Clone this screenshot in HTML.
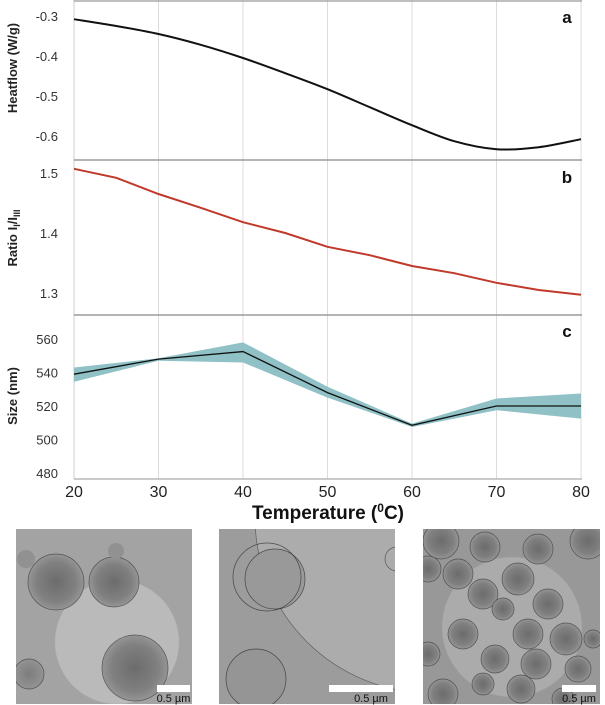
<!DOCTYPE html>
<html><head><meta charset="utf-8"><style>
html,body{margin:0;padding:0;background:#fff;}
svg{display:block;font-family:"Liberation Sans",Arial,sans-serif;}
</style></head><body>
<svg id="c" width="605" height="705" viewBox="0 0 605 705" xmlns="http://www.w3.org/2000/svg">
<defs>
<radialGradient id="dk" cx="50%" cy="50%" r="50%"><stop offset="0" stop-color="#6c6c6c"/><stop offset="0.7" stop-color="#808080"/><stop offset="1" stop-color="#959595"/></radialGradient>
<radialGradient id="dk2" cx="50%" cy="50%" r="50%"><stop offset="0" stop-color="#7c7c7c"/><stop offset="1" stop-color="#939393"/></radialGradient>
<clipPath id="cd"><rect x="16" y="529" width="176" height="175"/></clipPath>
<clipPath id="ce"><rect x="219" y="529" width="176" height="175"/></clipPath>
<clipPath id="cf"><rect x="423" y="529" width="177" height="175"/></clipPath>
</defs>
<g id="charts"></g>
<g id="micro"></g>
</svg>
<script>
const xTicks=[20,30,40,50,60,70,80];
const tempA=[20,25,30,35,40,45,50,55,60,65,70,75,80];
const heatflow=[-0.308,-0.325,-0.345,-0.372,-0.405,-0.443,-0.483,-0.528,-0.573,-0.613,-0.633,-0.628,-0.608];
const yTicksA=[-0.3,-0.4,-0.5,-0.6];
const tempB=[20,25,30,35,40,45,50,55,60,65,70,75,80];
const ratio=[1.507,1.492,1.465,1.442,1.418,1.400,1.377,1.363,1.345,1.333,1.317,1.305,1.297];
const yTicksB=[1.5,1.4,1.3];
const tempC=[20,30,40,50,60,70,80];
const sizeMean=[539,548,552.5,528,508.5,520,520];
const sizeUpper=[543,548.5,558,531.5,509.5,524.5,527.5];
const sizeLower=[534.5,547,546,525,507.5,517.5,512.5];
const yTicksC=[560,540,520,500,480];

const NS="http://www.w3.org/2000/svg";
const g=document.getElementById('charts');
function mk(t,a,p){const e=document.createElementNS(NS,t);for(const k in a)e.setAttribute(k,a[k]);(p||g).appendChild(e);return e;}
const X0=74,X1=581;
const xs=v=>X0+(v-20)/60*(X1-X0);
const ya=v=>16+(v+0.3)/(-0.3)*120;
const yb=v=>173+(1.5-v)/0.2*120;
const yc=v=>473-(v-480)/80*134;

xTicks.forEach(t=>{ if(t===20)return;
 const l=mk('line',{x1:xs(t),x2:xs(t),y1:0,y2:479,stroke:'#dcdcdc','stroke-width':1});
 });
let ax=mk('line',{x1:X0,x2:X0,y1:0,y2:479,stroke:'#cfcfcf','stroke-width':1});

[[1,'#999'],[160,'#888'],[315,'#888'],[479,'#aaa']].forEach(([y,c])=>{
 const l=mk('line',{x1:X0,x2:X1+1,y1:y,y2:y,stroke:c,'stroke-width':1.3});
 });

function txt(x,y,s,attrs,name){const t=mk('text',Object.assign({x:x,y:y},attrs));t.textContent=s;
 return t;}
const tk={'font-size':13,fill:'#333','text-anchor':'end'};
yTicksA.forEach(v=>txt(58,ya(v)+5,v.toFixed(1),tk,'y-tick-a'));
yTicksB.forEach(v=>txt(58,yb(v)+5,v.toFixed(1),tk,'y-tick-b'));
yTicksC.forEach(v=>txt(58,yc(v)+5,String(v),tk,'y-tick-c'));
xTicks.forEach(v=>txt(xs(v),497,String(v),{'font-size':16,fill:'#222','text-anchor':'middle'},'x-tick'));

function smooth(px){let d='M'+px[0][0]+','+px[0][1];
 for(let i=0;i<px.length-1;i++){const p0=px[i-1]||px[i],p1=px[i],p2=px[i+1],p3=px[i+2]||px[i+1];
  d+=' C'+(p1[0]+(p2[0]-p0[0])/6)+','+(p1[1]+(p2[1]-p0[1])/6)+' '+(p2[0]-(p3[0]-p1[0])/6)+','+(p2[1]-(p3[1]-p1[1])/6)+' '+p2[0]+','+p2[1];}
 return d;}
const la=mk('path',{d:smooth(tempA.map((t,i)=>[xs(t),ya(heatflow[i])])),fill:'none',stroke:'#111','stroke-width':2});

const lb=mk('polyline',{points:tempB.map((t,i)=>xs(t)+','+yb(ratio[i])).join(' '),fill:'none',stroke:'#c0392b','stroke-width':2});

const band=mk('polygon',{points:tempC.map((t,i)=>xs(t)+','+yc(sizeUpper[i])).concat(tempC.slice().reverse().map((t,j)=>xs(t)+','+yc(sizeLower[tempC.length-1-j]))).join(' '),fill:'#8fc1c6'});

const lc=mk('polyline',{points:tempC.map((t,i)=>xs(t)+','+yc(sizeMean[i])).join(' '),fill:'none',stroke:'#111','stroke-width':1.3});


const bl={'font-size':17,'font-weight':'bold',fill:'#111','text-anchor':'middle'};
txt(567,23,'a',bl,'panel-label-a');txt(567,183,'b',bl,'panel-label-b');txt(567,337,'c',bl,'panel-label-c');
const yt={'font-size':13,'font-weight':'bold',fill:'#222','text-anchor':'middle'};
txt(0,0,'Heatflow (W/g)',Object.assign({transform:'translate(17,68) rotate(-90)'},yt),'y-axis-title-a');
const rt=txt(0,0,'Ratio I',Object.assign({transform:'translate(17,238) rotate(-90)'},yt),'y-axis-title-b');
rt.innerHTML='Ratio I<tspan font-size="9" dy="3">I</tspan><tspan dy="-3">/I</tspan><tspan font-size="9" dy="3">III</tspan>';
txt(0,0,'Size (nm)',Object.assign({transform:'translate(17,396) rotate(-90)'},yt),'y-axis-title-c');
const xt=txt(328,519,'',{'font-size':19,'font-weight':'bold',fill:'#111','text-anchor':'middle'},'x-axis-title');
xt.innerHTML='Temperature (<tspan font-size="12" dy="-7">0</tspan><tspan dy="7">C)</tspan>';

const m=document.getElementById('micro');
function panel(ox,clip,bg,name){
 const gg=mk('g',{'clip-path':'url(#'+clip+')'},m);
 
 mk('rect',{x:ox,y:529,width:177,height:175,fill:bg},gg);
 return gg;}
function circ(gg,ox,x,y,r,fill,st){mk('circle',{cx:ox+x,cy:529+y,r:r,fill:fill,stroke:st||'#333','stroke-width':0.7,'stroke-opacity':0.7},gg);}
let d=panel(16,'cd','#a3a3a3','micrograph-d');
circ(d,16,101,113,62,'#bababa','#b0b0b0');
circ(d,16,40,53,28,'url(#dk)');circ(d,16,98,53,25,'url(#dk)');circ(d,16,119,139,33,'url(#dk)');circ(d,16,13,145,15,'url(#dk2)');
circ(d,16,10,30,9,'#919191','none');circ(d,16,100,22,8,'#919191','none');
let e=panel(219,'ce','#9c9c9c','micrograph-e');
circ(e,219,212,-12,176,'#acacac','#444');
circ(e,219,56,50,30,'#999','#222');circ(e,219,48,48,34,'none','#222');
circ(e,219,37,150,30,'#959595','#222');circ(e,219,178,30,12,'none','#333');
let f=panel(423,'cf','#989898','micrograph-f');
circ(f,423,89,98,70,'#ababab','#a0a0a0');
[[18,12,18],[62,18,15],[115,20,15],[165,12,18],[5,40,13],[35,45,15],[60,65,15],[95,50,16],[125,75,15],[80,80,11],[40,105,15],[105,105,15],[143,110,16],[72,130,14],[113,135,15],[155,140,13],[60,155,11],[98,160,14],[20,165,15],[5,125,12],[170,110,9],[140,170,11]].forEach(c=>circ(f,423,c[0],c[1],c[2],'url(#dk)'));
[[16,166,'d','#111',157,190],[219,365,'e','#fff',329,393],[423,564,'f','#fff',562,596]].forEach(p=>{
 txt(p[1],555,p[2],{'font-size':18,'font-weight':'bold',fill:p[3],'text-anchor':'middle'},'micrograph-label-'+p[2]);
 const r=mk('rect',{x:p[4],y:685,width:p[5]-p[4],height:7,fill:'#fff'},m);
 
 const t=mk('text',{x:(p[4]+p[5])/2+ (p[2]==='e'?10:0),y:702,'font-size':11,fill:'#111','text-anchor':'middle'},m);
 t.textContent='0.5 µm';
});
</script>
</body></html>
